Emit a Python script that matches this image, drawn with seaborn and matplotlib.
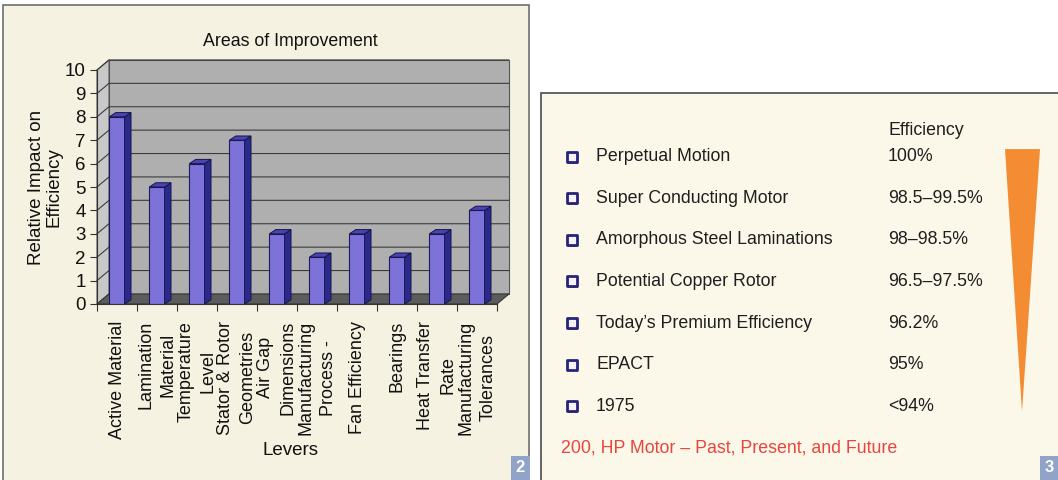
import matplotlib
matplotlib.use("Agg")
import matplotlib.pyplot as plt
from matplotlib.patches import Polygon, Rectangle
import seaborn as sns
import pandas as pd

# left panel: bar chart
levers = ["Active Material", "Lamination\nMaterial", "Temperature\nLevel",
          "Stator & Rotor\nGeometries", "Air Gap\nDimensions", "Manufacturing\nProcess -",
          "Fan Efficiency", "Bearings", "Heat Transfer\nRate", "Manufacturing\nTolerances"]
impact = [8, 5, 6, 7, 3, 2, 3, 2, 3, 4]

# right panel: efficiency list
motors = ["Perpetual Motion", "Super Conducting Motor", "Amorphous Steel Laminations",
          "Potential Copper Rotor", "Today\u2019s Premium Efficiency", "EPACT", "1975"]
efficiency = ["100%", "98.5\u201399.5%", "98\u201398.5%", "96.5\u201397.5%",
              "96.2%", "95%", "<94%"]
caption = "200, HP Motor \u2013 Past, Present, and Future"

sns.set_style("white")
plt.rcParams["font.family"] = ["Liberation Sans", "DejaVu Sans"]

W, H = 1058, 480
fig = plt.figure(figsize=(W / 100, H / 100), dpi=100)
fig.patch.set_facecolor("white")


def box(x0, y0, x1, y1):
    """pixel box (origin top-left) -> figure fraction rect"""
    return [x0 / W, 1 - y1 / H, (x1 - x0) / W, (y1 - y0) / H]


def panel(x0, y0, x1, y1, fc, ec):
    l, b, w, h = box(x0, y0, x1, y1)
    fig.add_artist(Rectangle((l, b), w, h, transform=fig.transFigure,
                             fc=fc, ec=ec, lw=1.2, zorder=-10))


panel(3, 5, 529, 482, "#f5f2e1", "#6e6e6e")
panel(541, 93, 1060, 482, "#fbf8ea", "#4a4a4a")

# ---- bar chart with a fake 3D look ----
ax = fig.add_axes(box(97, 70, 497, 304))
ax.set_facecolor("none")
df = pd.DataFrame({"lever": levers, "impact": impact})
n = len(levers)
top = 10
dx, dy = 0.3, 0.43      # wall depth (data units)
bdx, bdy = 0.16, 0.18   # bar depth

lo, hi = -0.5, n - 0.5
ax.add_patch(Polygon([(lo + dx, dy), (hi + dx, dy), (hi + dx, top + dy), (lo + dx, top + dy)],
                     fc="#afafaf", ec="#555555", lw=0.8, zorder=0, clip_on=False))
ax.add_patch(Polygon([(lo, 0), (lo + dx, dy), (lo + dx, top + dy), (lo, top)],
                     fc="#c8c8c8", ec="#555555", lw=0.8, zorder=0, clip_on=False))
for k in range(1, top + 1):
    ax.plot([lo, lo + dx, hi + dx], [k, k + dy, k + dy], color="#3c3c3c",
            lw=0.8, zorder=0.5, clip_on=False)
ax.add_patch(Polygon([(lo, 0), (hi, 0), (hi + dx, dy), (lo + dx, dy)],
                     fc="#5c5c5c", ec="#333333", lw=0.8, zorder=0.6, clip_on=False))

sns.barplot(data=df, x="lever", y="impact", width=0.38, color="#7c72d8",
            saturation=1, edgecolor="#1b1a5a", linewidth=0.8, zorder=2, ax=ax)

for p in list(ax.patches):
    if p.get_zorder() != 2:
        continue
    x0, w, h = p.get_x(), p.get_width(), p.get_height()
    ax.add_patch(Polygon([(x0 + w, 0), (x0 + w + bdx, bdy), (x0 + w + bdx, h + bdy), (x0 + w, h)],
                         fc="#2b2a8c", ec="#15144a", lw=0.7, zorder=2.1, clip_on=False))
    ax.add_patch(Polygon([(x0, h), (x0 + bdx, h + bdy), (x0 + w + bdx, h + bdy), (x0 + w, h)],
                         fc="#4a44b0", ec="#15144a", lw=0.7, zorder=2.1, clip_on=False))

ax.set_xlim(lo, hi)
ax.set_ylim(0, top)
ax.set_yticks(range(top + 1))
ax.tick_params(axis="y", left=True, length=5, width=0.8, color="#333333",
               labelsize=13.5, pad=3, labelcolor="#111111")
ax.set_xticks(range(n))
ax.set_xticklabels(levers, rotation=90, fontsize=13, linespacing=1.4,
                   va="top", ha="center", color="#111111")
ax.tick_params(axis="x", which="major", length=0, pad=12)
ax.set_xticks([i + 0.5 for i in range(-1, n)], minor=True)
ax.tick_params(axis="x", which="minor", bottom=True, length=5, width=0.8, color="#333333")
for s in ["top", "right"]:
    ax.spines[s].set_visible(False)
for s in ["left", "bottom"]:
    ax.spines[s].set_color("#333333")
    ax.spines[s].set_linewidth(0.8)

ax.set_xlabel("Levers", fontsize=13.5, color="#111111")
ax.xaxis.set_label_coords(0.4825, -0.588)
ax.set_ylabel("Relative Impact on\nEfficiency", fontsize=13.5, color="#111111",
              linespacing=1.1)
ax.yaxis.set_label_coords(-0.085, 0.5)
fig.text(290 / W, 1 - 42 / H, "Areas of Improvement", fontsize=12.8,
         ha="center", va="center", color="#111111")

# ---- efficiency list ----
ax2 = fig.add_axes(box(541, 93, 1058, 480))
ax2.set_xlim(541, 1058)
ax2.set_ylim(7.783, -1.542)
ax2.axis("off")

rows = list(range(len(motors)))
# checkbox shadow, then the box itself
sns.scatterplot(x=[573] * len(rows), y=[r + 0.04 for r in rows], marker="s", s=60,
                color="#d8506a", linewidth=0, ax=ax2, legend=False, clip_on=False)
sns.scatterplot(x=[572] * len(rows), y=rows, marker="s", s=60, color="#f4f2ff",
                edgecolor="#26247a", linewidth=2, ax=ax2, legend=False, clip_on=False)
for i, (m, e) in enumerate(zip(motors, efficiency)):
    ax2.text(596, i, m, va="center", ha="left", fontsize=12.8, color="#1e1e1e")
    ax2.text(888, i, e, va="center", ha="left", fontsize=12.8, color="#1e1e1e")
ax2.text(888, -0.65, "Efficiency", va="center", ha="left", fontsize=12.8, color="#1e1e1e")
ax2.text(561, 7.0, caption, va="center", ha="left", fontsize=12.8, color="#e8453c")
ax2.fill([1005, 1040, 1022], [rows[0] - 0.19, rows[0] - 0.19, rows[-1] + 0.14],
         color="#f38c32", lw=0)

# page number badges
for x0, label in [(511, "2"), (1040, "3")]:
    l, b, w, h = box(x0, 456, x0 + 19, 480)
    fig.add_artist(Rectangle((l, b), w, h, transform=fig.transFigure,
                             fc="#8fa4c8", ec="none", zorder=5))
    fig.text(l + w / 2, b + h / 2, label, ha="center", va="center",
             fontsize=12, fontweight="bold", color="white", zorder=6)

fig.savefig("out.png", dpi=100)
